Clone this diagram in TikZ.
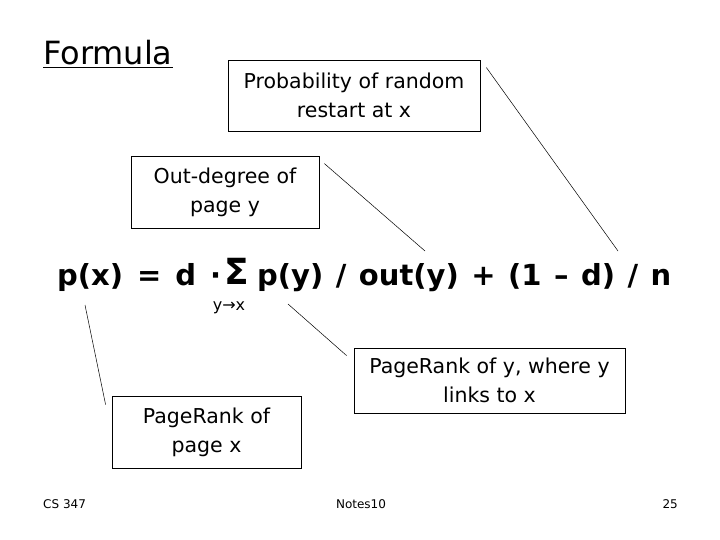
\documentclass[tikz,border=0pt]{standalone}
\usepackage{fontspec}
\setmainfont{DejaVu Sans}
\usetikzlibrary{positioning}
\tikzset{
    note/.style={draw, line width=0.8pt, align=center, inner sep=0pt,
        font=\fontsize{20.5}{29}\selectfont},
    pointer/.style={line width=0.5pt},
    formula/.style={inner sep=0pt, font=\fontsize{29}{32}\selectfont\bfseries},
    footer/.style={inner sep=0pt, font=\fontsize{12}{14}\selectfont},
}

\begin{document}
\begin{tikzpicture}[x=1pt, y=-1pt]
    \useasboundingbox (0,0) rectangle (720,540);

    \node[inner sep=0pt, anchor=base west, font=\fontsize{32}{36}\selectfont] (title) at (43,65) {\underline{Formula}};

    % the boxes
    \node[note, minimum width=252pt, minimum height=71pt] (restart) at (354,95.5) {Probability of random\\restart at x};
    \node[note, minimum width=188pt, minimum height=72pt] (outdeg) at (225,192) {Out-degree of\\page y};
    \node[note, minimum width=189pt, minimum height=72pt] (rankx) at (206.5,432) {PageRank of\\page x};
    \node[note, minimum width=271pt, minimum height=65pt] (ranky) at (489.5,380.5) {PageRank of y, where y\\links to x};

    % the formula
    \node[formula, anchor=base west] (lhs) at (57,285) {\spaceskip=14pt\relax p(x) = d ·};
    \node[inner sep=0pt, anchor=base, font=\fontsize{36}{40}\selectfont\bfseries] (sigma) at (237,284) {Σ};
    \node[inner sep=0pt, anchor=base, font=\fontsize{16}{18}\selectfont] (sub) at (229,310) {y→x};
    \node[formula, anchor=base west] (rhs) at (257,285) {\spaceskip=12.5pt\relax p(y) / out(y) + (1 – d) / n};

    % pointers
    \coordinate (onerest) at (618,251);
    \coordinate (onout) at (425,251);
    \coordinate (onpx) at (85,305);
    \coordinate (onpy) at (288,304);
    \draw[pointer] ([shift={(6,8)}]restart.north east) -- (onerest);
    \draw[pointer] ([shift={(5,8)}]outdeg.north east) -- (onout);
    \draw[pointer] (onpx) -- ([shift={(-6,9)}]rankx.north west);
    \draw[pointer] (onpy) -- ([shift={(-7,8)}]ranky.north west);

    % footer
    \node[footer, anchor=base west] (course) at (43,508) {CS 347};
    \node[footer, anchor=base] (notes) at (361,508) {Notes10};
    \node[footer, anchor=base east] (page) at (678,508) {25};
\end{tikzpicture}
\end{document}
